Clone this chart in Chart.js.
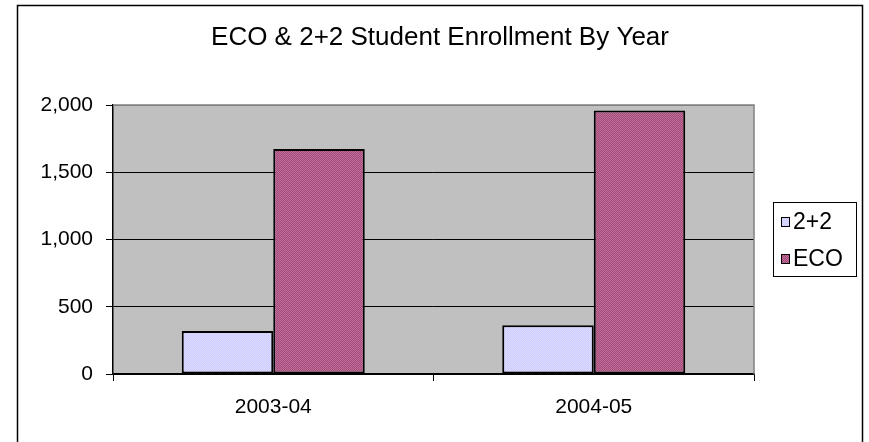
<!DOCTYPE html>
<html>
<head>
<meta charset="utf-8">
<script src="https://cdn.jsdelivr.net/npm/chart.js@4.4.1/dist/chart.umd.min.js"></script>
<style>
  html, body { margin: 0; padding: 0; background: #fff; }
  #wrap { width: 869px; height: 442px; }
</style>
</head>
<body>
<div id="wrap"><canvas id="enrollChart" width="869" height="442"></canvas></div>
<script>
// enrollment data
let years = ["2003-04", "2004-05"];
let twoPlusTwo = [320, 362];
let eco = [1673, 1960];
let yTicks = [0, 500, 1000, 1500, 2000];

const FONT = "'Liberation Sans', Arial, sans-serif";
const TITLE = "ECO & 2+2 Student Enrollment By Year";

// small dotted fill like the old office patterns
function dots(base, dot) {
    let c = document.createElement("canvas");
    c.width = 2;
    c.height = 2;
    let g = c.getContext("2d");
    g.fillStyle = base;
    g.fillRect(0, 0, 2, 2);
    g.fillStyle = dot;
    g.fillRect(0, 0, 1, 1);
    g.fillRect(1, 1, 1, 1);
    return g.createPattern(c, "repeat");
}

let lavender = dots("#CACAFF", "#DEDEFF");
let plum = dots("#A3497B", "#C07098");

// white page, outer frame, title and grey plot area
const frame = {
    id: "frame",
    beforeDraw(chart) {
        let ctx = chart.ctx;
        let a = chart.chartArea;
        ctx.save();
        ctx.fillStyle = "#fff";
        ctx.fillRect(0, 0, chart.width, chart.height);
        ctx.strokeStyle = "#000";
        ctx.lineWidth = 1.5;
        ctx.strokeRect(17.5, 5.5, 845, 500);
        ctx.fillStyle = "#C0C0C0";
        ctx.fillRect(a.left, a.top, a.right - a.left, a.bottom - a.top);
        ctx.fillStyle = "#000";
        ctx.font = "26px " + FONT;
        ctx.textAlign = "center";
        ctx.textBaseline = "middle";
        ctx.fillText(TITLE, 440, 38);
        ctx.restore();
    },
    afterDatasetsDraw(chart) {
        let ctx = chart.ctx;
        let a = chart.chartArea;
        ctx.save();
        ctx.strokeStyle = "#808080";
        ctx.lineWidth = 1.5;
        ctx.beginPath();
        ctx.moveTo(a.left, a.top);
        ctx.lineTo(a.right, a.top);
        ctx.lineTo(a.right, a.bottom);
        ctx.stroke();
        ctx.restore();
    }
};

// boxed legend on the right
const boxLegend = {
    id: "boxLegend",
    afterDraw(chart) {
        let ctx = chart.ctx;
        ctx.save();
        ctx.strokeStyle = "#000";
        ctx.lineWidth = 1;
        ctx.strokeRect(773.5, 202.5, 83, 74);
        ctx.font = "23px " + FONT;
        ctx.textBaseline = "middle";
        ctx.textAlign = "left";
        let rows = [222, 259];
        chart.data.datasets.forEach((ds, i) => {
            let y = rows[i];
            ctx.fillStyle = ds.backgroundColor;
            ctx.fillRect(781, y - 5, 9, 10);
            ctx.strokeStyle = "#000";
            ctx.strokeRect(781.5, y - 4.5, 8, 9);
            ctx.fillStyle = "#000";
            ctx.fillText(ds.label, 793, y + 1);
        });
        ctx.restore();
    }
};

let ctx = document.getElementById("enrollChart").getContext("2d");

new Chart(ctx, {
    type: "bar",
    data: {
        labels: years,
        datasets: [{
            label: "2+2",
            data: twoPlusTwo,
            backgroundColor: lavender,
            borderColor: "#000",
            borderWidth: 2,
            borderSkipped: false
        }, {
            label: "ECO",
            data: eco,
            backgroundColor: plum,
            borderColor: "#000",
            borderWidth: 2,
            borderSkipped: false
        }]
    },
    options: {
        responsive: false,
        animation: false,
        layout: { padding: { left: 0, right: 115, top: 105, bottom: 0 } },
        datasets: {
            bar: { categoryPercentage: 0.571, barPercentage: 1 }
        },
        plugins: {
            legend: { display: false },
            tooltip: { enabled: false },
            title: { display: false }
        },
        scales: {
            x: {
                afterFit(scale) { scale.height = 68; },
                grid: {
                    offset: true,
                    drawOnChartArea: false,
                    color: "#000",
                    tickLength: 7
                },
                border: { color: "#000", width: 1.5 },
                ticks: {
                    color: "#000",
                    padding: 14,
                    font: { family: FONT, size: 21 }
                }
            },
            y: {
                min: 0,
                max: 2000,
                afterFit(scale) { scale.width = 113; },
                afterBuildTicks(scale) {
                    scale.ticks = yTicks.map(v => ({ value: v }));
                },
                grid: {
                    color: c => (c.tick && c.tick.value === 2000 ? "#808080" : "#000"),
                    tickColor: "#000",
                    lineWidth: 1,
                    tickLength: 7
                },
                border: { color: "#000", width: 1.5 },
                ticks: {
                    color: "#000",
                    padding: 13,
                    font: { family: FONT, size: 21 },
                    callback: v => v.toLocaleString("en-US")
                }
            }
        }
    },
    plugins: [frame, boxLegend]
});
</script>
</body>
</html>
